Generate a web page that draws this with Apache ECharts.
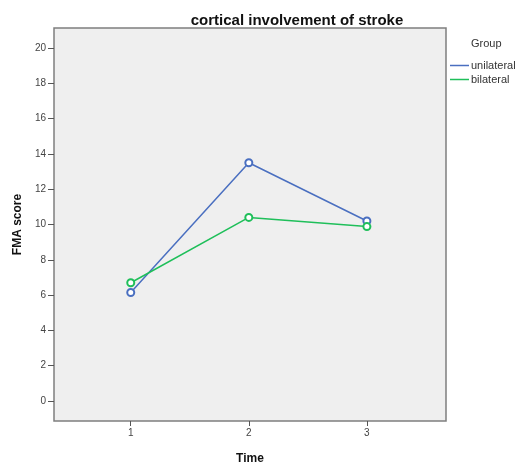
<!DOCTYPE html>
<html><head><meta charset="utf-8">
<script src="https://cdn.jsdelivr.net/npm/echarts@6/dist/echarts.min.js"></script>
<style>html,body{margin:0;padding:0;background:#fff}#c{width:525px;height:466px}</style>
</head><body><div id="c"></div>
<script>
const times = [1, 2, 3];
const unilateral = [6.15, 13.5, 10.2];
const bilateral = [6.7, 10.4, 9.88];
const yTicks = [0, 2, 4, 6, 8, 10, 12, 14, 16, 18, 20];
const xTicks = [1, 2, 3];
const seriesNames = ['unilateral', 'bilateral'];

const chart = echarts.init(document.getElementById('c'));
const font = 'Arial, "Liberation Sans", sans-serif';
function mk(name, vals, color) {
  return {
    name: name, type: 'line', data: times.map((t, i) => [t, vals[i]]),
    symbol: 'emptyCircle', symbolSize: 7, showSymbol: true,
    lineStyle: {color: color, width: 1.5}, itemStyle: {color: color, borderWidth: 1},
    emphasis: {disabled: true}, animation: false
  };
}
chart.setOption({
  animation: false,
  backgroundColor: '#fff',
  title: [
    {text: 'cortical involvement of stroke', left: 292, top: 8, textAlign: 'center',
     textStyle: {fontFamily: font, fontSize: 15, fontWeight: 'bold', color: '#111'}},
    {text: 'Group', left: 466, top: 33,
     textStyle: {fontFamily: font, fontSize: 11, fontWeight: 'normal', color: '#333'}}
  ],
  legend: {
    orient: 'vertical', left: 445, top: 55, itemGap: 3, itemWidth: 19, itemHeight: 1.5,
    icon: 'rect', data: seriesNames,
    textStyle: {fontFamily: font, fontSize: 11, color: '#333', padding: [0, 0, 0, -3]}
  },
  grid: {left: 54, top: 28, width: 392, height: 393, show: true, containLabel: false,
         outerBoundsMode: 'none',
         backgroundColor: '#efefef', borderColor: '#7f7f7f', borderWidth: 1.5},
  xAxis: {
    type: 'value', min: 0.35, max: 3.67,
    name: 'Time', nameLocation: 'middle', nameGap: 32,
    nameTextStyle: {fontFamily: font, fontSize: 12, fontWeight: 'bold', color: '#111'},
    axisLine: {show: false, onZero: false},
    splitLine: {show: false},
    axisTick: {show: true, inside: false, customValues: xTicks, length: 5, lineStyle: {color: '#555'}},
    axisLabel: {customValues: xTicks, fontFamily: font, fontSize: 10, color: '#444', margin: 7}
  },
  yAxis: {
    type: 'value', min: -1.13, max: 21.13,
    name: 'FMA score', nameLocation: 'middle', nameGap: 25,
    nameTextStyle: {fontFamily: font, fontSize: 12, fontWeight: 'bold', color: '#111'},
    axisLine: {show: false, onZero: false},
    splitLine: {show: false},
    axisTick: {show: true, inside: false, customValues: yTicks, length: 6, lineStyle: {color: '#555'}},
    axisLabel: {customValues: yTicks, fontFamily: font, fontSize: 10, color: '#444', margin: 8}
  },
  series: [mk(seriesNames[0], unilateral, '#4a6fc0'), mk(seriesNames[1], bilateral, '#1fbf5a')]
});
</script></body></html>
